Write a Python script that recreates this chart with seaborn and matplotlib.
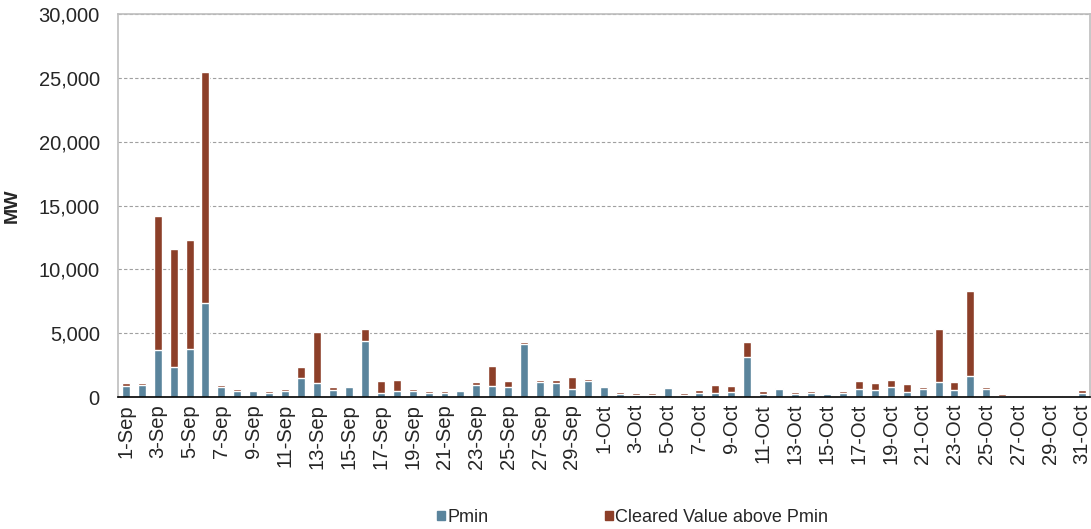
import numpy as np
import pandas as pd
import seaborn as sns
import matplotlib.pyplot as plt
from matplotlib.patches import Patch

# daily values, MW
days = [f"{d}-Sep" for d in range(1, 31)] + [f"{d}-Oct" for d in range(1, 32)]

pmin = [850, 950, 3680, 2350, 3760, 7380, 810, 440, 440, 290, 440, 1490, 1120, 550, 760,
        4410, 340, 440, 490, 310, 290, 440, 960, 860, 780, 4150, 1200, 1120, 600, 1280,
        760, 210, 180, 160, 680, 180, 290, 340, 420, 3110, 260, 600, 235, 310, 210,
        290, 630, 520, 760, 420, 600, 1170, 550, 1640, 650, 100, 20, 0, 30, 60, 290]

above_pmin = [230, 170, 10520, 9260, 8530, 18070, 130, 160, 130, 160, 160, 880, 3970, 210, 100,
              890, 940, 890, 140, 160, 180, 130, 190, 1540, 470, 130, 130, 210, 940, 130,
              130, 160, 130, 130, 130, 130, 280, 600, 420, 1170, 210, 130, 155, 180, 130,
              160, 600, 600, 570, 600, 160, 4130, 600, 6660, 110, 160, 40, 20, 60, 120, 280]

df = pd.DataFrame({"day": days, "Pmin": pmin, "Cleared Value above Pmin": above_pmin})
df["total"] = df["Pmin"] + df["Cleared Value above Pmin"]

blue = "#5A849C"
red = "#8C3F29"

sns.set_style("white")
plt.rcParams["font.family"] = ["Liberation Sans", "DejaVu Sans"]

fig = plt.figure(figsize=(10.91, 5.29), dpi=100)
ax = fig.add_axes([0.108, 0.2495, 0.891, 0.724])

# stacked: total first, Pmin drawn over it
sns.barplot(data=df, x="day", y="total", color=red, width=0.5, saturation=1, ax=ax)
sns.barplot(data=df, x="day", y="Pmin", color=blue, width=0.5, saturation=1, ax=ax)

ax.set_ylim(0, 30000)
ax.set_xlim(-0.5, len(days) - 0.5)
ax.set_yticks(np.arange(0, 30001, 5000))
ax.set_yticklabels([f"{v:,}" for v in range(0, 30001, 5000)], fontsize=14.5)
ax.tick_params(axis="y", length=0, pad=13)

ax.set_xticks(np.arange(0, len(days), 2))
ax.set_xticklabels(days[::2], rotation=90, fontsize=14.5)
ax.set_xticks(np.arange(-0.5, len(days), 1), minor=True)
ax.tick_params(axis="x", which="major", length=0, pad=5)
ax.tick_params(axis="x", which="minor", length=4.5, width=1, color="black", direction="out")

ax.yaxis.grid(True, linestyle=(0, (3, 2)), color="#A0A0A0", linewidth=0.8)
ax.set_axisbelow(True)

for s in ["left", "top", "right"]:
    ax.spines[s].set_visible(True)
    ax.spines[s].set_color("#BEBEBE")
    ax.spines[s].set_linewidth(1.2)
ax.spines["bottom"].set_color("black")
ax.spines["bottom"].set_linewidth(1.2)

ax.set_xlabel("")
ax.set_ylabel("MW", fontsize=14, fontweight="bold", labelpad=13)

handles = [Patch(color=blue, label="Pmin"), Patch(color=red, label="Cleared Value above Pmin")]
fig.legend(handles=handles, loc="center", bbox_to_anchor=(0.58, 0.022), ncol=2,
           frameon=False, fontsize=13, handlelength=0.45, handleheight=0.45,
           handletextpad=0.15, columnspacing=6.4)

plt.savefig("out.png", dpi=100)
